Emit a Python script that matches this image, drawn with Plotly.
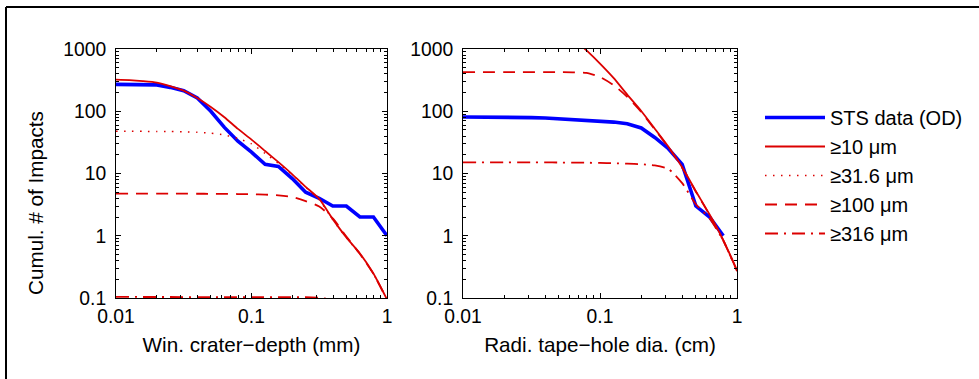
import plotly.graph_objects as go

# ---------------- data ----------------
size_grid = [0.01, 0.0126, 0.0158, 0.02, 0.0251, 0.0316, 0.0398, 0.0501, 0.0631, 0.0794,
             0.1, 0.126, 0.158, 0.2, 0.251, 0.316, 0.398, 0.501, 0.631, 0.794, 1.0]

# left panel: window crater depth (mm)
sts_left = [270, 268, 267, 265, 242, 214, 163, 100, 55, 33, 22, 14, 13, 8.3, 5, 4, 3, 3, 2, 2, 1]
m10_left = [321, 316, 305, 289, 254, 215, 163, 117, 80, 52, 35, 23, 15.2, 9.7, 6.1, 3.9, 1.85, 0.94, 0.52, 0.248, 0.095]
m31_left = [47.6, 47.6, 47.5, 47.4, 47.2, 46.8, 46, 44.5, 41.5, 36.5, 30, 21, 14.5, 9.5, 6, 3.8, 1.8, 0.93, 0.51, 0.245, 0.094]
m100_left = [4.75, 4.75, 4.75, 4.75, 4.75, 4.74, 4.73, 4.72, 4.7, 4.68, 4.65, 4.58, 4.45, 4.2, 3.6, 2.95, 1.9, 0.97, 0.51, 0.245, 0.094]
m316_left = [0.104, 0.104, 0.104, 0.104, 0.104, 0.104, 0.104, 0.104, 0.104, 0.104, 0.104,
             0.104, 0.104, 0.104, 0.103, 0.101, 0.095, 0.075, 0.05, 0.026, 0.011]

# right panel: radiator tape hole diameter (cm)
sts_right = [81, 81, 81, 80.5, 80, 79, 78, 76, 74, 72, 70, 67, 63, 54, 38, 25, 14, 3, 2, 1]
m10_right = [20000, 16000, 12500, 9500, 7000, 5000, 3500, 2350, 1520, 957, 583, 340, 185, 101, 52.5, 26.8, 12.6, 5.2, 2.19, 0.85, 0.28]
m100_right = [425, 425, 425, 425, 425, 425, 425, 424, 422, 412, 355, 262, 170, 97, 51, 26.3, 12.4, 5.1, 2.15, 0.84, 0.275]
m316_right = [15.1, 15.1, 15.1, 15.1, 15.1, 15.1, 15.1, 15.0, 15.0, 14.9, 14.8, 14.6, 14.4, 14.1, 13.5, 11.8, 7.0, 3.2, 1.9, 0.83, 0.27]

series_names = ["STS data (OD)", "≥10 μm", "≥31.6 μm", "≥100 μm", "≥316 μm"]
x_ticks = [0.01, 0.1, 1]
x_ticktext = ["0.01", "0.1", "1"]
y_ticks = [0.1, 1, 10, 100, 1000]
y_ticktext = ["0.1", "1", "10", "100", "1000"]
x_title_left = "Win. crater−depth (mm)"
x_title_right = "Radi. tape−hole dia. (cm)"
y_title = "Cumul. # of Impacts"

# ---------------- styles ----------------
BLUE = "#0000ff"
RED = "#dc0000"
FONT = "Liberation Sans, Arial, Helvetica, sans-serif"
FS_TICK = 19.3
FS_LAB = 20.7
FS_LEG = 20
W, H = 979, 379

styles = [
    dict(color=BLUE, width=3.6, dash="solid"),
    dict(color=RED, width=1.8, dash="solid"),
    dict(color=RED, width=1.5, dash="1.5px,6.5px"),
    dict(color=RED, width=1.8, dash="12px,8px"),
    dict(color=RED, width=1.8, dash="13px,6px,2px,6px"),
]

fig = go.Figure()

left_sets = [sts_left, m10_left, m31_left, m100_left, m316_left]
right_sets = [sts_right, m10_right, None, m100_right, m316_right]

for i, (name, ys) in enumerate(zip(series_names, left_sets)):
    fig.add_trace(go.Scatter(
        x=size_grid[:len(ys)], y=ys, mode="lines", name=name,
        line=dict(**styles[i], shape="linear" if i in (0, 4) else "spline", smoothing=0.6),
        legendgroup=name, showlegend=True, xaxis="x", yaxis="y"))

for i, (name, ys) in enumerate(zip(series_names, right_sets)):
    if ys is None:
        continue
    fig.add_trace(go.Scatter(
        x=size_grid[:len(ys)], y=ys, mode="lines", name=name,
        line=dict(**styles[i], shape="linear" if i == 0 else "spline", smoothing=0.6),
        legendgroup=name, showlegend=False, xaxis="x2", yaxis="y2"))

minor_x = [m * 10 ** e for e in (-2, -1) for m in range(2, 10)]
minor_y = [m * 10 ** e for e in (-1, 0, 1, 2) for m in range(2, 10)]

def xaxis(domain, title, anchor):
    return dict(
        type="log", range=[-2, 0], domain=domain, anchor=anchor,
        tickmode="array", tickvals=x_ticks, ticktext=x_ticktext,
        ticks="inside", ticklen=5, tickwidth=1, tickcolor="black",
        minor=dict(tickmode="array", tickvals=minor_x, ticks="inside", ticklen=3,
                   tickwidth=1, tickcolor="black", showgrid=False),
        showline=True, linecolor="black", linewidth=1, mirror="allticks",
        showgrid=False, zeroline=False, automargin=False,
        tickfont=dict(family=FONT, size=FS_TICK, color="black"), ticklabelstandoff=1,
        title=dict(text=title, font=dict(family=FONT, size=FS_LAB, color="black"), standoff=11),
    )

def yaxis(anchor):
    return dict(
        type="log", range=[-1, 3], domain=[1 - 298 / H, 1 - 49 / H], anchor=anchor,
        tickmode="array", tickvals=y_ticks, ticktext=y_ticktext,
        ticks="inside", ticklen=5, tickwidth=1, tickcolor="black",
        minor=dict(tickmode="array", tickvals=minor_y, ticks="inside", ticklen=3,
                   tickwidth=1, tickcolor="black", showgrid=False),
        showline=True, linecolor="black", linewidth=1, mirror="allticks",
        showgrid=False, zeroline=False, automargin=False,
        tickfont=dict(family=FONT, size=FS_TICK, color="black"), ticklabelstandoff=5,
    )

fig.update_layout(
    width=W, height=H, template="none",
    paper_bgcolor="white", plot_bgcolor="white",
    margin=dict(l=0, r=0, t=0, b=0, autoexpand=False),
    font=dict(family=FONT, size=FS_TICK, color="black"),
    xaxis=xaxis([116 / W, 387 / W], x_title_left, "y"),
    yaxis=yaxis("x"),
    xaxis2=xaxis([463 / W, 737 / W], x_title_right, "y2"),
    yaxis2=yaxis("x2"),
    showlegend=True,
    legend=dict(x=760 / W, y=1 - 98 / H, xanchor="left", yanchor="top",
                bgcolor="rgba(0,0,0,0)", borderwidth=0, itemwidth=60,
                font=dict(family=FONT, size=FS_LEG, color="black"),
                tracegroupgap=0, itemclick=False, itemdoubleclick=False),
    annotations=[dict(text=y_title, xref="paper", yref="paper", x=35 / W, y=1 - 203 / H,
                      textangle=-90, showarrow=False, xanchor="center", yanchor="middle",
                      font=dict(family=FONT, size=FS_LAB, color="black"))],
    shapes=[
        dict(type="line", xref="paper", yref="paper", x0=6 / W, x1=1, y0=1 - 7 / H, y1=1 - 7 / H,
             line=dict(color="black", width=2)),
        dict(type="line", xref="paper", yref="paper", x0=6 / W, x1=6 / W, y0=0, y1=1 - 7 / H,
             line=dict(color="black", width=2)),
    ],
)

fig.write_html("out.html", config={"displayModeBar": False, "staticPlot": True},
               post_script="document.body.style.margin='0px';document.body.style.overflow='hidden';")
